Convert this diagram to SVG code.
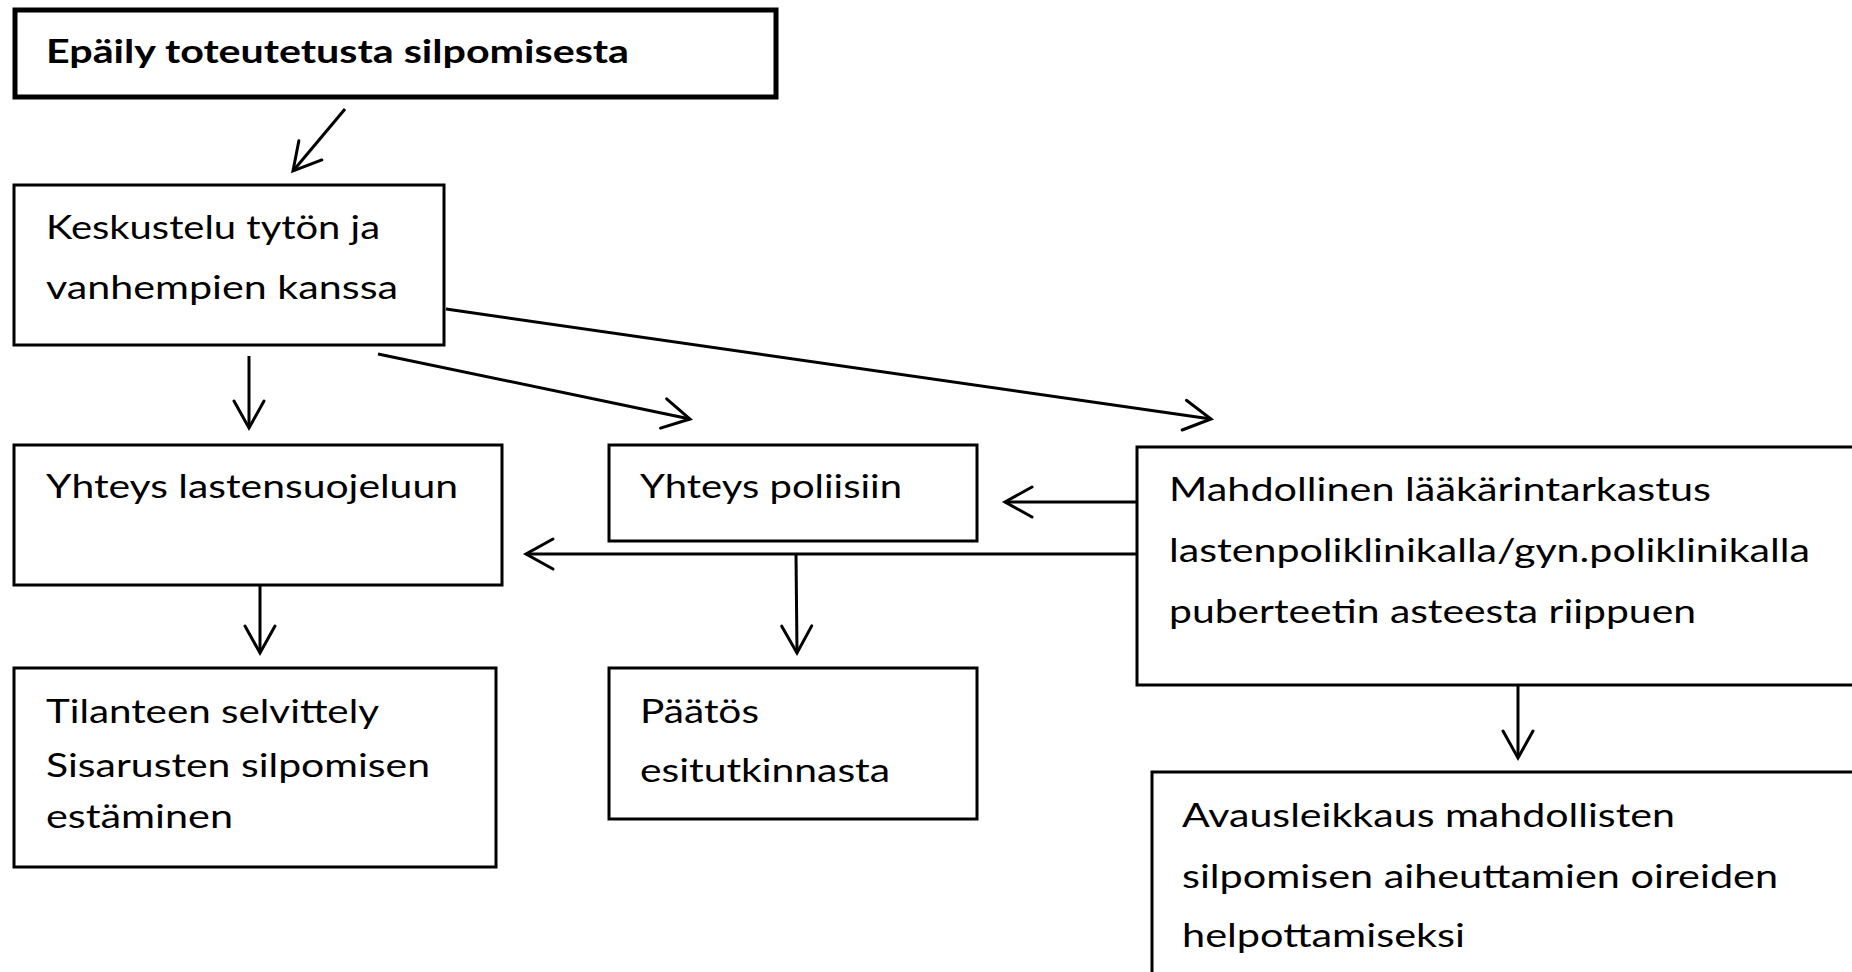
<svg xmlns="http://www.w3.org/2000/svg" width="1852" height="972" viewBox="0 0 1852 972">
<style>
.box{fill:#fff;stroke:#000;stroke-width:3}
.thick{stroke-width:5}
.t{font-family:Lato,"Open Sans","Liberation Sans",sans-serif;font-size:33px;fill:#000}
.b{font-weight:bold}
.c{fill:none;stroke:#000;stroke-width:3}
</style>
<defs>
<marker id="ah" markerUnits="userSpaceOnUse" markerWidth="40" markerHeight="40" viewBox="-32 -20 40 40" refX="0" refY="0" orient="auto" overflow="visible">
<path d="M-27,-15 L0,0 L-27,15" fill="none" stroke="#000" stroke-width="3" stroke-linecap="round" stroke-linejoin="miter"/>
</marker>
</defs>
<rect width="1852" height="972" fill="#fff"/>
<g id="n1">
<rect class="box thick" x="15" y="10" width="761" height="87"/>
<text class="t b" x="46" y="63" textLength="583" lengthAdjust="spacingAndGlyphs">Epäily toteutetusta silpomisesta</text>
</g>
<g id="n2">
<rect class="box" x="14" y="185" width="430" height="160"/>
<text class="t" x="46" y="239" textLength="334" lengthAdjust="spacingAndGlyphs">Keskustelu tytön ja</text>
<text class="t" x="46" y="299" textLength="352" lengthAdjust="spacingAndGlyphs">vanhempien kanssa</text>
</g>
<g id="n3">
<rect class="box" x="14" y="445" width="488" height="140"/>
<text class="t" x="46" y="498" textLength="412" lengthAdjust="spacingAndGlyphs">Yhteys lastensuojeluun</text>
</g>
<g id="n4">
<rect class="box" x="609" y="445" width="368" height="96"/>
<text class="t" x="640" y="498" textLength="262" lengthAdjust="spacingAndGlyphs">Yhteys poliisiin</text>
</g>
<g id="n5">
<rect class="box" x="1137" y="447" width="730" height="238"/>
<text class="t" x="1169" y="501" textLength="542" lengthAdjust="spacingAndGlyphs">Mahdollinen lääkärintarkastus</text>
<text class="t" x="1169" y="562" textLength="641" lengthAdjust="spacingAndGlyphs">lastenpoliklinikalla/gyn.poliklinikalla</text>
<text class="t" x="1169" y="623" textLength="527" lengthAdjust="spacingAndGlyphs">puberteetin asteesta riippuen</text>
</g>
<g id="n6">
<rect class="box" x="14" y="668" width="482" height="199"/>
<text class="t" x="46" y="723" textLength="333" lengthAdjust="spacingAndGlyphs">Tilanteen selvittely</text>
<text class="t" x="46" y="777" textLength="384" lengthAdjust="spacingAndGlyphs">Sisarusten silpomisen</text>
<text class="t" x="46" y="828" textLength="187" lengthAdjust="spacingAndGlyphs">estäminen</text>
</g>
<g id="n7">
<rect class="box" x="609" y="668" width="368" height="151"/>
<text class="t" x="640" y="723" textLength="119" lengthAdjust="spacingAndGlyphs">Päätös</text>
<text class="t" x="640" y="782" textLength="250" lengthAdjust="spacingAndGlyphs">esitutkinnasta</text>
</g>
<g id="n8">
<rect class="box" x="1152" y="772" width="720" height="220"/>
<text class="t" x="1182" y="827" textLength="493" lengthAdjust="spacingAndGlyphs">Avausleikkaus mahdollisten</text>
<text class="t" x="1182" y="888" textLength="596" lengthAdjust="spacingAndGlyphs">silpomisen aiheuttamien oireiden</text>
<text class="t" x="1182" y="947" textLength="283" lengthAdjust="spacingAndGlyphs">helpottamiseksi</text>
</g>
<g id="connectors">
<line class="c" x1="345" y1="109" x2="293" y2="171" marker-end="url(#ah)"/>
<line class="c" x1="249" y1="356" x2="249" y2="428" marker-end="url(#ah)"/>
<line class="c" x1="378" y1="354" x2="690" y2="419" marker-end="url(#ah)"/>
<line class="c" x1="446" y1="309" x2="1211" y2="419" marker-end="url(#ah)"/>
<line class="c" x1="1137" y1="502" x2="1005" y2="502" marker-end="url(#ah)"/>
<line class="c" x1="1137" y1="554" x2="526" y2="554" marker-end="url(#ah)"/>
<line class="c" x1="260" y1="585" x2="260" y2="653" marker-end="url(#ah)"/>
<line class="c" x1="796" y1="554" x2="797" y2="653" marker-end="url(#ah)"/>
<line class="c" x1="1518" y1="686" x2="1518" y2="758" marker-end="url(#ah)"/>
</g>
</svg>
